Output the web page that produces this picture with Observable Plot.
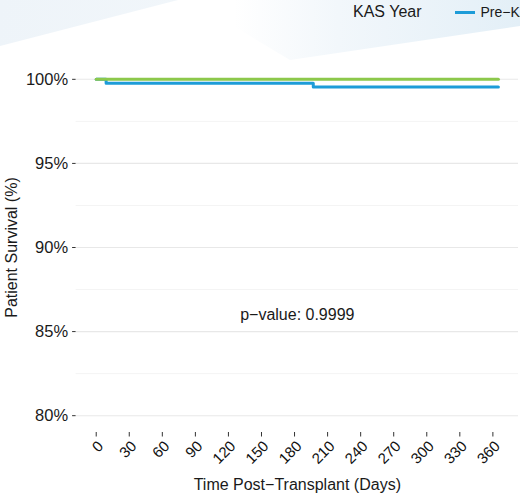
<!DOCTYPE html>
<html><head><meta charset="utf-8">
<script src="https://cdn.jsdelivr.net/npm/d3@7"></script>
<script src="https://cdn.jsdelivr.net/npm/@observablehq/plot@0.6"></script>
<style>
body{margin:0;background:#fff;font-family:"Liberation Sans",Arial,Helvetica,sans-serif;}
#wrap{position:relative;width:520px;height:493px;overflow:hidden;background:#fff;}
.deco{position:absolute;left:0;top:0;width:520px;height:80px;}
#d1{background:linear-gradient(100deg,#eef4f9 0%,#f4f8fb 70%,#fbfcfe 100%);clip-path:polygon(0 0,178px 0,0 46px);}
#d2{background:linear-gradient(90deg,rgba(255,255,255,0) 0%,rgba(255,255,255,0) 45%,#f2f7fb 65%,#e3eff7 100%);clip-path:polygon(190px 0,520px 0,520px 26px,290px 60px);}
#chart{position:absolute;left:0;top:0;}
#legend{position:absolute;top:0;left:353px;height:24px;white-space:nowrap;display:flex;align-items:center;color:#1a1a1a;}
#legend .title{font-size:16px;margin-right:33px;}
#legend .sw{display:inline-block;width:20px;height:3px;margin-right:6px;}
#legend .lab{font-size:14px;margin-right:20px;}
</style>
</head><body>
<div id="wrap">
  <div class="deco" id="d1"></div>
  <div class="deco" id="d2"></div>
  <div id="chart"></div>
  <div id="legend"></div>
</div>
<script>
// ---- data ----
const groups = ["Pre\u2212KAS", "Post\u2212KAS"];
const groupColors = ["#1d9cd8", "#8cc84b"];
const preDays = [0, 9, 197, 365];
const preSurv = [100, 99.77, 99.55, 99.55];
const postDays = [0, 365];
const postSurv = [100, 100];
const xTicks = [0, 30, 60, 90, 120, 150, 180, 210, 240, 270, 300, 330, 360];
const yTicks = [80, 85, 90, 95, 100];
const yMinor = [82.5, 87.5, 92.5, 97.5];
const pLabel = "p\u2212value: 0.9999";
const pDay = 182.5, pSurv = 86;
const xTitle = "Time Post\u2212Transplant (Days)";
const yTitle = "Patient Survival (%)";
const legendTitle = "KAS Year";

const pre = preDays.map((d, i) => ({day: d, surv: preSurv[i], g: groups[0]}));
const post = postDays.map((d, i) => ({day: d, surv: postSurv[i], g: groups[1]}));

const chart = Plot.plot({
  width: 520, height: 493,
  marginLeft: 75.6, marginRight: 2, marginTop: 62, marginBottom: 61,
  style: {fontFamily: '"Liberation Sans", Arial, Helvetica, sans-serif', fontSize: "16px", color: "#1a1a1a", background: "transparent"},
  x: {domain: [-18.25, 383.25]},
  y: {domain: [79, 101]},
  marks: [
    Plot.ruleY(yMinor, {stroke: "#f4f4f4", strokeWidth: 1}),
    Plot.ruleY(yTicks, {stroke: "#e8e8e8", strokeWidth: 1.1}),
    Plot.axisY({ticks: yTicks, tickFormat: d => d + "%", tickSize: 3.5, tickPadding: 4.5, stroke: "#333",
      label: yTitle, labelAnchor: "center", labelArrow: "none", labelOffset: 70}),
    Plot.axisX({ticks: xTicks, tickSize: 4.5, tickFormat: () => "", stroke: "#333",
      label: xTitle, labelAnchor: "center", labelArrow: "none", labelOffset: 57}),
    Plot.text(xTicks, {x: d => d, text: d => String(d), frameAnchor: "bottom", rotate: -45,
      textAnchor: "end", lineAnchor: "top", dy: 7, dx: 0.5, fontSize: 15, fill: "#111"}),
    Plot.line(pre, {x: "day", y: "surv", curve: "step-after", stroke: groupColors[0], strokeWidth: 3}),
    Plot.line(post, {x: "day", y: "surv", curve: "step-after", stroke: groupColors[1], strokeWidth: 3}),
    Plot.text([pLabel], {x: pDay, y: pSurv, text: d => d, fontSize: 16, fill: "#1a1a1a"})
  ]
});
chart.querySelectorAll('g[aria-label^="y-axis"] text, g[aria-label^="x-axis"] text').forEach(el => { el.style.fontSize = "16px"; });
chart.querySelectorAll('g[aria-label^="y-axis tick label"] text').forEach(el => { el.style.fontSize = "16.5px"; });
document.getElementById("chart").appendChild(chart);

const leg = document.getElementById("legend");
const t = document.createElement("span"); t.className = "title"; t.textContent = legendTitle; leg.appendChild(t);
groups.forEach((g, i) => {
  const s = document.createElement("span"); s.className = "sw"; s.style.background = groupColors[i]; leg.appendChild(s);
  const l = document.createElement("span"); l.className = "lab"; l.textContent = g; leg.appendChild(l);
});
</script>
</body></html>
